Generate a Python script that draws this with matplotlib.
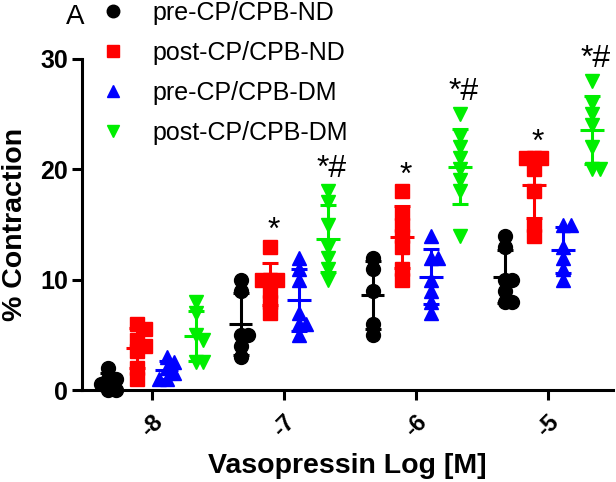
import numpy as np
import matplotlib
matplotlib.use("Agg")
import matplotlib.pyplot as plt
from matplotlib.lines import Line2D

plt.rcParams['font.family'] = ['Liberation Sans', 'DejaVu Sans']

# data (% contraction per animal)
doses = [-8, -7, -6, -5]
dose_labels = ['-8', '-7', '-6', '-5']
group_names = ['pre-CP/CPB-ND', 'post-CP/CPB-ND', 'pre-CP/CPB-DM', 'post-CP/CPB-DM']

pre_nd = [[2, 1, 1, 0.5, 0, 0],
          [10, 9, 5, 5, 4, 3],
          [12, 11, 9, 6, 5],
          [14, 13, 10, 10, 9, 8, 8]]
post_nd = [[6, 5.5, 4.5, 4, 3.5, 2, 1],
           [13, 10, 10, 10, 9, 8, 7],
           [18, 16, 15, 14, 13, 11, 10],
           [21, 21, 21, 20, 18, 15, 14]]
pre_dm = [[3, 2.5, 2, 1.5, 1, 1],
          [12, 11, 10, 7, 6, 6, 5],
          [14, 12, 12, 10, 9, 8, 7],
          [15, 15, 13, 12, 11, 10]]
post_dm = [[8, 7, 5, 4.5, 2.5, 2.5],
           [18, 17, 15, 13, 12, 11, 10],
           [25, 23, 22, 21, 20, 19, 18, 14],
           [28, 26, 25, 24, 22, 20, 20]]

# significance marks: (group index, dose index, text)
marks = [(1, 1, '*'), (3, 1, '*#'),
         (1, 2, '*'), (3, 2, '*#'),
         (1, 3, '*'), (3, 3, '*#')]

all_groups = [pre_nd, post_nd, pre_dm, post_dm]
colors = ['black', '#ff0000', '#0000ff', '#00ee00']
markers = ['o', 's', '^', 'v']
msizes = [10, 10, 10.5, 10.5]
offsets = [-0.33, -0.11, 0.11, 0.33]

fig = plt.figure(figsize=(6.16, 4.82), dpi=100)
ax = fig.add_axes([82/616, 92/482, 531/616, 331/482])
xlim = (-8.53, -4.51)
ylim = (0, 30)
ax.set_xlim(xlim)
ax.set_ylim(ylim)

px_x = 531 / (xlim[1] - xlim[0])
px_y = 331 / (ylim[1] - ylim[0])


def swarm(vals, d=14.0):
    # simple beeswarm in pixel space, returns x offsets in data units
    vals = np.asarray(vals, dtype=float)
    placed = []
    offs = np.zeros(len(vals))
    for i in np.argsort(-vals):
        y = vals[i] * px_y
        for k in [0, 1, -1, 2, -2, 3, -3]:
            x = k * d * 0.55
            if all(np.hypot(x - px, y - py) >= d * 0.5 for px, py in placed):
                break
        placed.append((x, y))
        offs[i] = x / px_x
    return offs


for g, data in enumerate(all_groups):
    for j, vals in enumerate(data):
        xc = doses[j] + offsets[g]
        xs = xc + swarm(vals)
        ax.plot(xs, vals, linestyle='none', marker=markers[g], ms=msizes[g],
                color=colors[g], mec=colors[g], clip_on=False, zorder=3)
        m = np.mean(vals)
        sd = np.std(vals, ddof=1)
        ax.errorbar([xc], [m], yerr=[sd], fmt='none', ecolor=colors[g],
                    elinewidth=2.2, capsize=6, capthick=2.2, zorder=4, clip_on=False)
        ax.plot([xc - 0.09, xc + 0.09], [m, m], color=colors[g], lw=2.2,
                zorder=4, solid_capstyle='butt')

for g, j, txt in marks:
    top = max(all_groups[g][j])
    dy = 0.7 if txt == '*' else 1.3
    ax.text(doses[j] + offsets[g] + 0.03, top + dy, txt, ha='center',
            va='baseline', fontsize=23, color='black')

ax.set_xticks(doses)
ax.set_xticklabels(dose_labels, rotation=45, fontsize=17, fontweight='bold')
ax.set_yticks([0, 10, 20, 30])
ax.set_yticklabels(['0', '10', '20', '30'], fontsize=18, fontweight='bold')
ax.tick_params(axis='both', direction='out', length=7, width=2.2)
ax.tick_params(axis='x', pad=8)
ax.tick_params(axis='y', pad=3)
for s in ['top', 'right']:
    ax.spines[s].set_visible(False)
for s in ['left', 'bottom']:
    ax.spines[s].set_linewidth(2.2)

ax.set_xlabel('Vasopressin Log [M]', fontsize=20.5, fontweight='bold', labelpad=8)
ax.set_ylabel('% Contraction', fontsize=20.5, fontweight='bold', labelpad=9)

handles = [Line2D([], [], linestyle='none', marker=markers[g], ms=9,
                  color=colors[g]) for g in range(4)]
fig.legend(handles, group_names, loc='upper left',
           bbox_to_anchor=(100/616, 1 - 1/482), frameon=False, fontsize=18,
           handlelength=1.0, handletextpad=1.1, labelspacing=0.64,
           borderpad=0, borderaxespad=0)

fig.text(75/616, 1 - 17/482, 'A', fontsize=20, ha='center', va='center')

fig.savefig('out.png', dpi=100)
